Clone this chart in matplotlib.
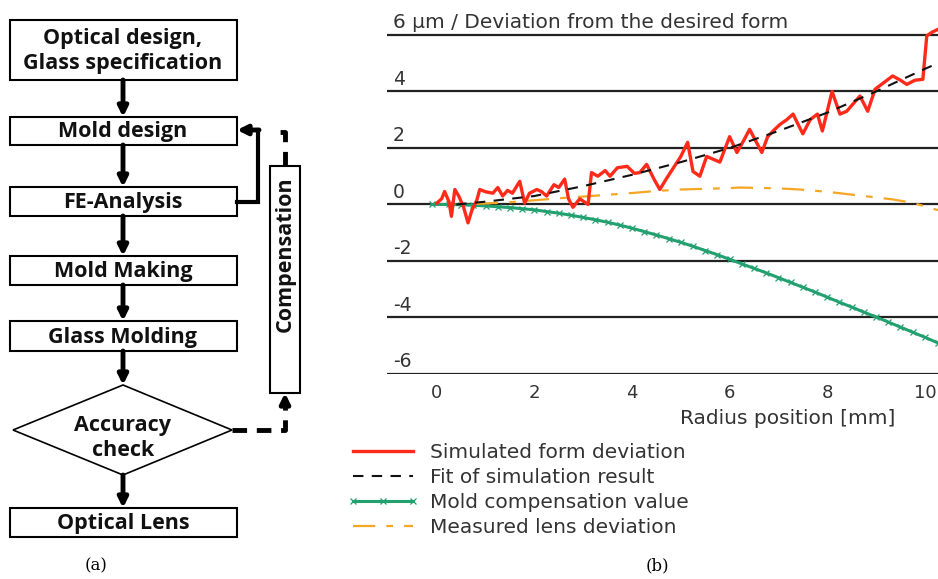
import numpy as np
import matplotlib.pyplot as plt
from matplotlib.patches import Rectangle, Polygon

plt.rcParams['font.family'] = ['DejaVu Sans']

# ---- data (b) ----
red_x = [0.0, 0.1, 0.16, 0.25, 0.3, 0.37, 0.45, 0.55, 0.64, 0.72, 0.82, 0.88, 1.0, 1.15,
         1.25, 1.35, 1.45, 1.55, 1.7, 1.8, 1.9, 2.05, 2.15, 2.25, 2.4, 2.5, 2.62, 2.7, 2.79,
         2.93, 3.1, 3.17, 3.3, 3.45, 3.55, 3.7, 3.9, 4.05, 4.16, 4.3, 4.45, 4.57, 4.7, 4.85,
         5.0, 5.14, 5.25, 5.39, 5.53, 5.8, 6.0, 6.15, 6.3, 6.41, 6.55, 6.66, 6.78, 6.89, 7.03,
         7.17, 7.3, 7.5, 7.65, 7.8, 7.9, 8.1, 8.26, 8.4, 8.55, 8.67, 8.83, 8.98, 9.15, 9.34,
         9.5, 9.63, 9.8, 9.96, 10.04, 10.15, 10.27]
red_y = [0.05, 0.2, 0.46, 0.1, -0.42, 0.53, 0.3, -0.1, -0.65, -0.2, 0.15, 0.53, 0.45, 0.4,
         0.6, 0.3, 0.5, 0.4, 0.82, 0.05, 0.4, 0.53, 0.45, 0.3, 0.7, 0.6, 0.9, 0.2, -0.1,
         0.2, 0.0, 1.13, 1.0, 1.2, 1.0, 1.3, 1.35, 1.1, 1.13, 1.42, 0.9, 0.53, 0.9, 1.3,
         1.7, 2.2, 1.17, 1.0, 1.7, 1.5, 2.4, 1.84, 2.3, 2.66, 2.2, 1.84, 2.4, 2.6, 2.83,
         3.0, 3.2, 2.5, 3.0, 3.2, 2.6, 4.0, 3.2, 3.3, 3.6, 3.84, 3.3, 4.08, 4.3, 4.55,
         4.4, 4.25, 4.4, 4.43, 5.97, 6.1, 6.2]

fit_x = [0.4, 1, 2, 3, 4, 5, 6, 7, 8, 9, 10, 10.27]
fit_y = [0.0, 0.1, 0.3, 0.65, 1.05, 1.5, 2.0, 2.6, 3.25, 4.0, 4.8, 5.0]

green_x = [-0.1, 0.25, 0.5, 0.75, 1.0, 1.25, 1.5, 1.75, 2.0, 2.25, 2.5, 2.75, 3.0, 3.25,
           3.5, 3.75, 4.0, 4.25, 4.5, 4.75, 5.0, 5.25, 5.5, 5.75, 6.0, 6.25, 6.5, 6.75,
           7.0, 7.25, 7.5, 7.75, 8.0, 8.25, 8.5, 8.75, 9.0, 9.25, 9.5, 9.75, 10.0, 10.27]
green_y = [0.0, 0.0, -0.01, -0.03, -0.05, -0.08, -0.11, -0.15, -0.19, -0.25, -0.31, -0.38,
           -0.46, -0.54, -0.63, -0.73, -0.84, -0.96, -1.08, -1.21, -1.34, -1.48, -1.63,
           -1.78, -1.94, -2.1, -2.26, -2.42, -2.59, -2.76, -2.93, -3.1, -3.28, -3.46,
           -3.63, -3.81, -3.98, -4.16, -4.34, -4.52, -4.7, -4.9]

orange_x = [0.8, 1.5, 2.0, 2.66, 3.0, 4.1, 4.43, 5.0, 6.0, 6.2, 7.0, 7.44, 8.0, 8.5, 9.0,
            9.34, 9.75, 10.27]
orange_y = [0.02, 0.08, 0.15, 0.24, 0.28, 0.42, 0.47, 0.53, 0.58, 0.6, 0.57, 0.53, 0.45,
            0.35, 0.25, 0.18, 0.06, -0.2]

yticks = [6, 4, 2, 0, -2, -4, -6]
ytick_labels = ['6 µm / Deviation from the desired form', '4', '2', '0', '-2', '-4', '-6']
xticks = [0, 2, 4, 6, 8, 10]
legend_labels = ['Simulated form deviation', 'Fit of simulation result',
                 'Mold compensation value', 'Measured lens deviation']

# ---- data (a) ----
steps = ['Optical design,\nGlass specification', 'Mold design', 'FE-Analysis',
         'Mold Making', 'Glass Molding', 'Accuracy\ncheck', 'Optical Lens']

W, H = 938, 579
fig = plt.figure(figsize=(W / 100, H / 100), dpi=100)

# flowchart drawn in pixel coordinates
fa = fig.add_axes([0, 0, 1, 1])
fa.set_xlim(0, W)
fa.set_ylim(H, 0)
fa.axis('off')

flow_font = dict(fontsize=15.5, fontweight='bold', color='#111111', family='Open Sans')

boxes = [(20, 80), (117, 145), (187, 216), (256, 285), (321, 351), None, (508, 537)]
for name, b in zip(steps, boxes):
    if b is None:
        continue
    fa.add_patch(Rectangle((10, b[0]), 227, b[1] - b[0], fill=False, lw=1.5, ec='black'))
    fa.text(123, (b[0] + b[1]) / 2 + 1, name, ha='center', va='center',
            linespacing=1.2, **flow_font)

# diamond
fa.add_patch(Polygon([(123, 385), (232, 430), (123, 475), (13, 430)], closed=True,
                     fill=False, lw=1.2, ec='black'))
fa.text(123, 438, steps[5], ha='center', va='center', linespacing=1.25, **flow_font)

arrow_kw = dict(arrowstyle='-|>', lw=3.5, color='black', mutation_scale=14,
                shrinkA=0, shrinkB=0)
for y0, y1 in [(80, 117), (145, 187), (216, 256), (285, 321), (351, 385), (475, 508)]:
    fa.annotate('', xy=(123, y1), xytext=(123, y0), arrowprops=arrow_kw)

# FE feedback loop
fa.plot([237, 258, 258], [202, 202, 130], color='black', lw=3, solid_joinstyle='miter')
fa.annotate('', xy=(237, 130), xytext=(259, 130), arrowprops=arrow_kw)

# compensation box
fa.add_patch(Rectangle((270, 166), 30, 227, fill=False, lw=1.5, ec='black'))
fa.text(285, 254, 'Compensation', rotation=90, ha='center', va='center', **flow_font)

# dashed path from accuracy check
fa.plot([232, 285, 285], [430, 430, 405], color='black', lw=3.5, ls=(0, (3, 2)))
fa.annotate('', xy=(285, 393), xytext=(285, 406), arrowprops=arrow_kw)
fa.plot([285, 285, 277], [166, 132, 132], color='black', lw=3.5, ls=(0, (3, 2)))

fa.text(96, 566, '(a)', ha='center', va='center', fontsize=12, family='DejaVu Serif')
fa.text(657, 566, '(b)', ha='center', va='center', fontsize=12, family='DejaVu Serif')

# ---- chart (b) ----
ax = fig.add_axes([387 / W, 1 - 374 / H, (W - 387) / W, (374 - 26.5) / H])
ax.set_xlim(-1.02, 10.27)
ax.set_ylim(-6, 6.3)
for s in ax.spines.values():
    s.set_visible(False)
for v, lab in zip(yticks, ytick_labels):
    ax.axhline(v, color='#222222', lw=1.6, zorder=1)
    ax.text(-0.9, v + 0.1, lab, ha='left', va='bottom',
            fontsize=14.5 if v == 6 else 13.5, color='#333333')
ax.set_yticks([])
ax.set_xticks(xticks)
ax.set_xticklabels([str(t) for t in xticks], fontsize=13, color='#333333')
ax.tick_params(axis='x', length=0, pad=7)

l1, = ax.plot(red_x, red_y, color='#ff2a1a', lw=2.4, zorder=4)
l2, = ax.plot(fit_x, fit_y, color='#111111', lw=1.5, ls=(0, (5, 4)), zorder=5)
l3, = ax.plot(green_x, green_y, color='#22a070', lw=2.2, marker='x', ms=4,
              mew=0.9, zorder=3)
l4, = ax.plot(orange_x, orange_y, color='#f5a623', lw=1.6, ls=(0, (10, 5, 3, 5)), zorder=3)

fig.text(788 / W, 1 - 418 / H, 'Radius position [mm]', ha='center', va='center',
         fontsize=14.5, color='#333333')

fig.legend([l1, l2, l3, l4], legend_labels, loc='upper left',
           bbox_to_anchor=(347 / W, 1 - 443 / H), frameon=False, fontsize=14.5,
           handlelength=3.6, handletextpad=0.5, labelspacing=0.3, borderpad=0,
           borderaxespad=0, numpoints=3, labelcolor='#333333')

fig.savefig('out.png', dpi=100)
